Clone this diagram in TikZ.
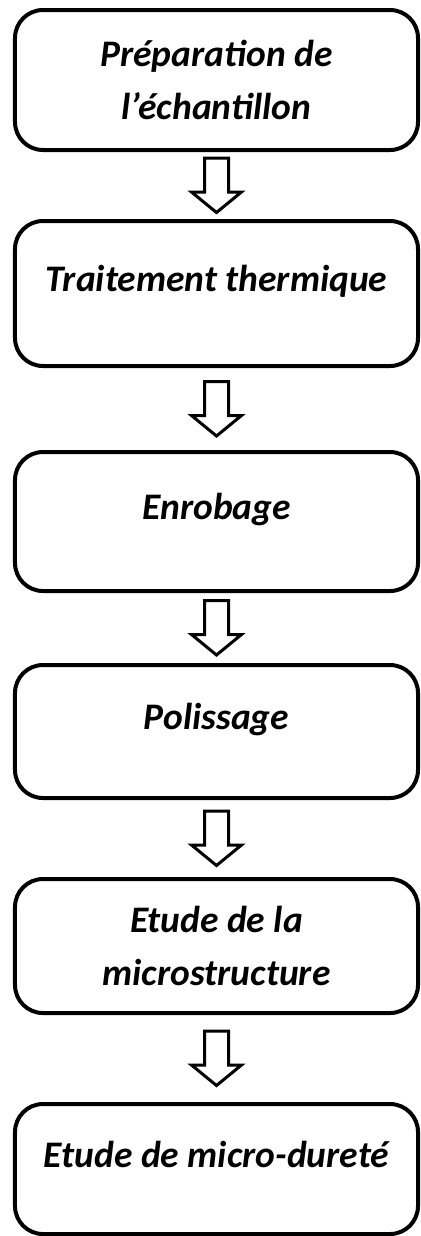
\documentclass[tikz,border=0pt]{standalone}
\usepackage{fontspec}
\setmainfont{Carlito}
\usetikzlibrary{positioning,calc}

\begin{document}
\begin{tikzpicture}[
  x=1bp, y=-1bp,
  stepbox/.style={rectangle, rounded corners=28bp, draw=black, line width=4bp,
    minimum width=403bp, inner sep=0pt, align=center,
    font=\fontsize{37.5bp}{53bp}\selectfont\bfseries\itshape},
  oneline/.style={text depth=30bp},
  hollow/.style={draw=black, fill=white, line width=3bp, line join=miter,
    to path={($(\tikztostart)!0.5!(\tikztotarget)+(-12,-27.5)$) -- ++(24,0)
      -- ++(0,34) -- ++(13,0) -- ($(\tikztostart)!0.5!(\tikztotarget)+(0,27)$)
      -- ++(-25,-20.5) -- ++(13,0) -- cycle}}
]
\useasboundingbox (0,0) rectangle (420,1236);
\node[stepbox, minimum height=140bp] (prep) at (216.5,80) {Préparation de\\l’échantillon};
\node[stepbox, oneline, minimum height=145bp, below=67bp of prep] (trait) {Traitement thermique};
\node[stepbox, oneline, minimum height=139bp, below=82bp of trait] (enrob) {Enrobage};
\node[stepbox, oneline, minimum height=133bp, below=70bp of enrob] (poli) {Polissage};
\node[stepbox, minimum height=134bp, below=77bp of poli] (micro) {Etude de la\\microstructure};
\node[stepbox, oneline, minimum height=130bp, below=87bp of micro] (durete) {Etude de micro-dureté};
\draw[hollow] (prep.south) to (trait.north);
\draw[hollow] (trait.south) to (enrob.north);
\draw[hollow] (enrob.south) to (poli.north);
\draw[hollow] (poli.south) to (micro.north);
\draw[hollow] (micro.south) to (durete.north);
\end{tikzpicture}
\end{document}
